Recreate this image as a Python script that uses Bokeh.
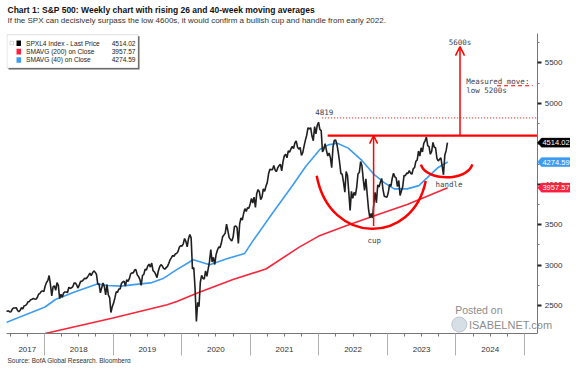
import json
import numpy as np
import pandas as pd
from bokeh.plotting import figure
from bokeh.models import (FixedTicker, CustomJSTickFormatter, Label, BoxAnnotation,
                          PolyAnnotation, Arrow, OpenHead, LinearAxis, Title)
from bokeh.embed import file_html
from bokeh.resources import INLINE

# ---------------- data (weekly closes, SPX) ----------------
close_2017 = [2432, 2433, 2438, 2423, 2425, 2459, 2472, 2472, 2476, 2441, 2425, 2443,
              2477, 2461, 2500, 2502, 2519, 2549, 2553, 2575, 2581, 2588, 2582, 2579,
              2602, 2642, 2652, 2675, 2683, 2674]
close_2018 = [2743, 2786, 2810, 2873, 2762, 2620, 2732, 2747, 2691, 2786, 2752, 2588,
              2641, 2604, 2656, 2670, 2670, 2663, 2728, 2713, 2721, 2735, 2779, 2780,
              2755, 2718, 2760, 2801, 2802, 2819, 2840, 2833, 2850, 2875, 2902, 2872,
              2905, 2930, 2914, 2886, 2767, 2768, 2659, 2723, 2781, 2736, 2633, 2760,
              2633, 2600, 2417, 2486]
close_2019 = [2532, 2596, 2671, 2665, 2707, 2707, 2776, 2793, 2804, 2743, 2822, 2800,
              2834, 2893, 2907, 2905, 2940, 2946, 2881, 2860, 2826, 2752, 2873, 2887,
              2950, 2942, 2990, 3014, 2977, 3026, 2932, 2919, 2889, 2847, 2926, 2979,
              3007, 2992, 2962, 2952, 2970, 2986, 3023, 3067, 3093, 3120, 3110, 3141,
              3146, 3169, 3221, 3240]
close_2020 = [3235, 3265, 3330, 3295, 3226, 3328, 3380, 3338, 2954, 2972, 2711, 2305,
              2541, 2489, 2790, 2875, 2837, 2831, 2930, 2864, 2955, 3044, 3194, 3041,
              3098, 3009, 3130, 3185, 3225, 3216, 3271, 3351, 3373, 3397, 3508, 3427,
              3341, 3319, 3298, 3348, 3477, 3484, 3465, 3270, 3510, 3585, 3558, 3638,
              3699, 3663, 3709, 3703]
close_2021 = [3756, 3825, 3768, 3841, 3714, 3887, 3934, 3907, 3811, 3842, 3943, 3913,
              3975, 4020, 4129, 4185, 4180, 4181, 4233, 4174, 4156, 4204, 4230, 4247,
              4166, 4281, 4352, 4370, 4327, 4412, 4395, 4437, 4468, 4442, 4509, 4535,
              4459, 4433, 4455, 4357, 4391, 4471, 4545, 4605, 4698, 4683, 4698, 4595,
              4538, 4712, 4621, 4726, 4766]
close_2022 = [4677, 4663, 4398, 4432, 4501, 4419, 4349, 4385, 4329, 4204, 4463, 4543,
              4546, 4488, 4393, 4272, 4132, 4123, 4024, 3901, 4158, 4109, 3901, 3675,
              3912, 3825, 3899, 3863, 3962, 4130, 4145, 4280, 4228, 4058, 3924, 4067,
              3873, 3693, 3586, 3640, 3583, 3753, 3901, 3771, 3993, 3965, 4026, 4072,
              3934, 3852, 3845, 3840]
close_2023 = [3895, 3999, 3973, 4071, 4136, 4091, 4079, 3970, 4046, 3862, 3917, 3971,
              4109, 4105, 4138, 4133, 4169, 4136, 4124, 4192, 4205, 4282, 4299, 4410,
              4348, 4450, 4399, 4505, 4536, 4582, 4478, 4464, 4370, 4406, 4516, 4457,
              4450, 4320, 4288, 4309, 4327, 4224, 4117, 4358, 4415, 4514.02]
last_week = "2023-11-17"

# 40-week moving average (fractional year / value)
ma40_year = [2017.44, 2018.01, 2018.16, 2018.44, 2018.78, 2018.92, 2019.12, 2019.40,
             2019.55, 2019.74, 2019.93, 2020.17, 2020.41, 2020.65, 2020.92, 2021.04,
             2021.33, 2021.61, 2021.81, 2022.02, 2022.14, 2022.27, 2022.43, 2022.62,
             2022.81, 2022.96, 2023.10, 2023.29, 2023.46, 2023.58, 2023.73, 2023.88]
ma40_val = [2292, 2484, 2577, 2668, 2770, 2749, 2742, 2770, 2782, 2840, 2945, 3068,
            3007, 3076, 3146, 3301, 3649, 3975, 4220, 4433, 4486, 4507, 4446, 4302,
            4118, 4017, 3943, 3943, 3983, 4078, 4200, 4274.59]
# 200-week moving average
ma200_year = [2018.01, 2019.00, 2019.79, 2019.93, 2020.24, 2020.75, 2021.23, 2021.71,
              2022.00, 2022.38, 2022.77, 2023.29, 2023.88]
ma200_val = [2157, 2349, 2513, 2553, 2660, 2823, 2954, 3220, 3360, 3480, 3600, 3751,
             3957.57]

last_price, last_ma200, last_ma40 = 4514.02, 3957.57, 4274.59
year_labels = ["2017", "2018", "2019", "2020", "2021", "2022", "2023", "2024"]
y_ticks = [2500, 3000, 3500, 4000, 4500, 5000, 5500]

title_text = "Chart 1: S&P 500: Weekly chart with rising 26 and 40-week moving averages"
subtitle_text = ("If the SPX can decisively surpass the low 4600s, it would confirm a bullish "
                 "cup and handle from early 2022.")
source_text = "Source: BofA Global Research, Bloomberg"

# annotation anchors (chart-reading)
neck_level, peak_level, measured_level = 4600, 4819, 5216
cup = dict(x0=2021.97, y0=4106, xb=2022.79, yb=3450, x1=2023.56, y1=4040)
handle = dict(x0=2023.49, y0=4241, xb=2023.86, yb=4085, x1=2024.24, y1=4245)

# ---------------- geometry ----------------
closes = close_2017 + close_2018 + close_2019 + close_2020 + close_2021 + close_2022 + close_2023
dates = pd.date_range(end=last_week, periods=len(closes), freq="W-FRI")
tyear = np.asarray(dates.year + (dates.dayofyear - 1) / np.where(dates.is_leap_year, 366, 365))

W, H = 570, 363
LEFT = 6                            # px left border
AXIS_PX = 537                       # px position of the value axis
X0, XR = 2017.447, 2025.19          # chart left edge / axis position (years)
PPY = (AXIS_PX - LEFT) / (XR - X0)  # px per year
XE = XR + (W - AXIS_PX) / PPY       # frame right edge (room for value tags)
Y0, YC = 2157, 5859                 # chart bottom / chart top values
CHART_TOP, BOTTOM = 33, 30          # px: chart top inside the frame, bottom border
FB = H - 32                         # expected frame bottom (px)
UPP = (YC - Y0) / (FB - CHART_TOP)  # value units per px
YT = YC + CHART_TOP * UPP           # frame top value (title area above chart)

def px_x(px):  # px offset from chart left -> data x
    return X0 + px / PPY

def px_y(px):  # px offset from chart top -> data y
    return YC - px * UPP

p = figure(width=W, height=H, x_range=(X0, XE), y_range=(Y0, YT),
           output_backend="svg", toolbar_location=None, y_axis_location=None,
           min_border_left=LEFT, min_border_right=0, min_border_top=0,
           min_border_bottom=BOTTOM, outline_line_color=None,
           background_fill_color="white", border_fill_color="white")
p.xgrid.visible = False
p.ygrid.visible = False

RED = "#f7263a"
BLUE = "#3c9cf0"

# moving averages and price
p.line(ma200_year, ma200_val, line_color=RED, line_width=1.6)
p.line(ma40_year, ma40_val, line_color=BLUE, line_width=1.6)
p.line(tyear, closes, line_color="#202020", line_width=1.6)

# cup & handle annotations
def arc(d, k=0.12):
    w = d["x1"] - d["x0"]
    cy = (8 * d["yb"] - d["y0"] - d["y1"]) / 6
    p.bezier(x0=[d["x0"]], y0=[d["y0"]], x1=[d["x1"]], y1=[d["y1"]],
             cx0=[d["x0"] + k * w], cy0=[cy], cx1=[d["x1"] - k * w], cy1=[cy],
             line_color="#ff0000", line_width=2.5)

arc(cup)
arc(handle, 0.1)
p.line([2022.13, XR], [neck_level, neck_level], line_color="#ff0000", line_width=2.2)
p.line([2022.05, XR], [peak_level, peak_level], line_color="#ff0000", line_width=1,
       line_dash="1 2")
p.line([2024.6, 2025.12], [measured_level, measured_level], line_color="#ff0000",
       line_width=1.2, line_dash="4 3")
p.add_layout(Arrow(end=OpenHead(size=8, line_color="#ff0000", line_width=1.5),
                   x_start=2022.80, y_start=3485, x_end=2022.80, y_end=neck_level,
                   line_color="#ff0000", line_width=1.5))
p.add_layout(Arrow(end=OpenHead(size=9, line_color="#ff0000", line_width=1.5),
                   x_start=2024.06, y_start=neck_level, x_end=2024.06, y_end=5700,
                   line_color="#ff0000", line_width=1.5))

MONO = "DejaVu Sans Mono"
def txt(x, y, s, size="7.5px", align="center", color="#3a4252", font=MONO,
        style="normal"):
    p.add_layout(Label(x=x, y=y, text=s, text_font_size=size, text_align=align,
                       text_baseline="middle", text_color=color, text_font=font,
                       text_font_style=style))

txt(2022.08, 4894, "4819")
txt(2022.81, 3301, "cup")
txt(2023.90, 3996, "handle")
txt(2024.06, 5752, "5600s")
txt(2024.15, 5271, "Measured move:", align="left")
txt(2024.15, 5160, "low 5200s", align="left")

# watermark
p.scatter([2024.05], [2268], size=15, fill_color="#d6dee6", line_color="#b9c3cc")
txt(2023.99, 2443, "Posted on", size="10.5px", align="left", color="#8c8c8c",
    font="Liberation Sans")
txt(2024.19, 2268, "ISABELNET.com", size="11px", align="left", color="#8c8c8c",
    font="Liberation Sans")

# ---------------- axes ----------------
# value axis drawn at the chart's right edge, labels to its right
ya = LinearAxis(fixed_location=XR, bounds=(Y0, YC))
ya.ticker = FixedTicker(ticks=y_ticks, minor_ticks=[v + 250 for v in [2000] + y_ticks])
ya.major_tick_out = 0
ya.major_tick_in = 4
ya.major_tick_line_width = 2
ya.minor_tick_out = 0
ya.minor_tick_in = 2
ya.axis_line_color = "#777777"
ya.major_tick_line_color = "#222222"
ya.minor_tick_line_color = "#777777"
ya.major_label_text_font_size = "8px"
ya.major_label_text_font = "Liberation Sans"
ya.major_label_text_color = "#333333"
ya.major_label_standoff = -25
p.add_layout(ya, "left")

years = list(range(2017, 2026))
quarters = [y + q / 4 for y in years[:-1] for q in range(4)] + [years[-1]]
quarters = [q for q in quarters if q > X0]
label_pos = {}
for lab in year_labels:
    lo = max(int(lab), X0)
    hi = int(lab) + 1
    label_pos["%.2f" % (round((lo + hi) / 2 * 4) / 4)] = lab
xa = p.xaxis[0]
xa.bounds = (X0, XR)
xa.ticker = FixedTicker(ticks=quarters, minor_ticks=years[1:])
xa.formatter = CustomJSTickFormatter(
    code="const m = %s; const k = tick.toFixed(2); return (k in m) ? m[k] : '';"
    % json.dumps(label_pos))
xa.major_tick_out = 3
xa.major_tick_in = 0
xa.minor_tick_out = 22
xa.minor_tick_in = 0
xa.axis_line_color = "#777777"
xa.major_tick_line_color = "#777777"
xa.minor_tick_line_color = "#b0b0b0"
xa.major_label_text_font_size = "8px"
xa.major_label_text_font = "Liberation Sans"
xa.major_label_text_color = "#333333"
xa.major_label_standoff = -9

# ---------------- value tags on the value axis ----------------
half = 4.6 * UPP
notch = 4 / PPY
for v, bg, fg in [(last_price, "#000000", "white"), (last_ma40, "#3c9cf0", "white"),
                  (last_ma200, "#ff2040", "white")]:
    p.add_layout(PolyAnnotation(xs=[XR, XR + notch, XE, XE, XR + notch],
                                ys=[v, v + half, v + half, v - half, v - half],
                                fill_color=bg, fill_alpha=1, line_color=bg))
    p.add_layout(Label(x=(XR + notch + XE) / 2, y=v, text="%.2f" % v,
                       text_font_size="7.5px", text_color=fg, text_font="Liberation Sans",
                       text_align="center", text_baseline="middle"))

# ---------------- titles, legend, source ----------------
txt(px_x(1), px_y(9.5 - CHART_TOP), title_text, size="8.5px", align="left",
    color="#111111", font="Liberation Sans", style="bold")
txt(px_x(1), px_y(20 - CHART_TOP), subtitle_text, size="8px", align="left",
    color="#333333", font="Liberation Sans")
p.add_layout(Title(text=source_text, align="left", offset=1, standoff=0,
                   text_font_size="6.5px", text_font="Liberation Sans",
                   text_font_style="normal", text_color="#333333"), "below")

def box(l, r, t, b, **kw):
    p.add_layout(BoxAnnotation(left=px_x(l), right=px_x(r), top=px_y(t), bottom=px_y(b),
                               **kw))

box(2, 133, 2.5, 35.5, fill_color="#666666", fill_alpha=1, line_color=None)
box(0.5, 131.5, 1, 34, fill_color="white", fill_alpha=1, line_color="#9a9a9a")
legend_rows = [("SPXL4 Index - Last Price", last_price, "#000000"),
               ("SMAVG (200)  on Close", last_ma200, "#ff1f3f"),
               ("SMAVG (40)  on Close", last_ma40, "#3c9cf0")]
for i, (name, v, c) in enumerate(legend_rows):
    r = 9.5 + 8.3 * i
    box(10, 14.5, r - 2.8, r + 2.8, fill_color=c, fill_alpha=1, line_color=None)
    txt(px_x(19.5), px_y(r), name, size="6.6px", align="left", color="#222222",
        font="Liberation Sans")
    txt(px_x(129), px_y(r), "%.2f" % v, size="6.6px", align="right", color="#222222",
        font="Liberation Sans")
# small tree marker of the legend
box(3.5, 7, 7.5, 11, fill_color="white", fill_alpha=1, line_color="#888888")

open("out.html", "w").write(file_html(p, INLINE))
